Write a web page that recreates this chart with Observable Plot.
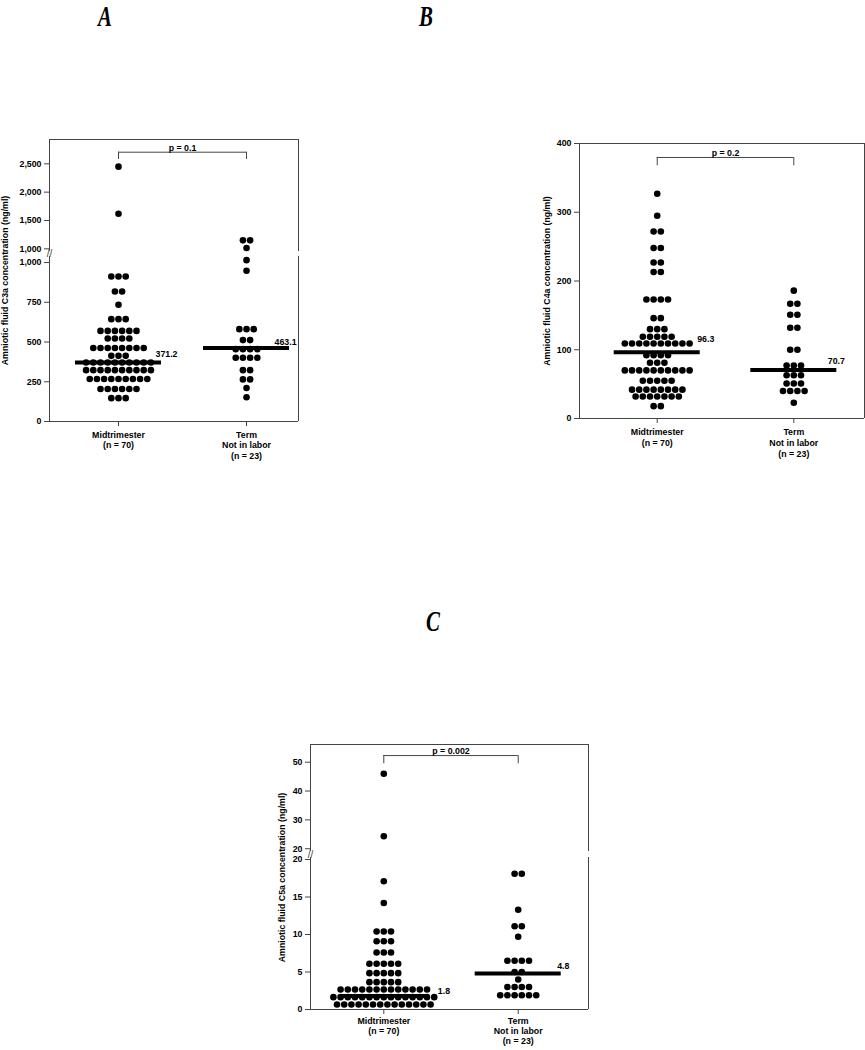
<!DOCTYPE html>
<html>
<head>
<meta charset="utf-8">
<script src="https://cdn.jsdelivr.net/npm/d3@7"></script>
<script src="https://cdn.jsdelivr.net/npm/@observablehq/plot@0.6"></script>
<style>
  body { margin: 0; background: #fff; }
  #page { position: relative; width: 865px; height: 1050px; overflow: hidden; background: #fff; }
  .seg { position: absolute; }
  .title { position: absolute; font-family: 'Liberation Serif', 'Times New Roman', serif; font-weight: bold;
           font-style: italic; font-size: 29px; line-height: 29px; white-space: nowrap; }
</style>
</head>
<body>
<div id="page"></div>
<script>
// ---------------- DATA ----------------
const categories = ["Midtrimester\n(n = 70)", "Term\nNot in labor\n(n = 23)"];
const panelLetters = ["A", "B", "C"];
const yAxisLabels = [
  "Amniotic fluid C3a concentration (ng/ml)",
  "Amniotic fluid C4a concentration (ng/ml)",
  "Amniotic fluid C5a concentration (ng/ml)"
];
const pValues = ["p = 0.1", "p = 0.2", "p = 0.002"];

// Panel A: C3a (rows of dots: value and number of dots in the row)
const c3aMidValues  = [2450, 1620, 912, 818, 734, 644, 570, 522, 462, 413, 371, 323, 267, 204, 147];
const c3aMidCounts  = [1, 1, 3, 2, 1, 3, 6, 4, 8, 3, 10, 10, 9, 6, 3];
const c3aTermValues = [1150, 1015, 948, 581, 512, 455, 401, 323, 265, 211, 153];
const c3aTermCounts = [2, 1, 1, 3, 2, 4, 4, 2, 2, 1, 1];
const c3aMedians = [371.2, 463.1];
const c3aTicksUpper = [1000, 1500, 2000, 2500];
const c3aTicksLower = [0, 250, 500, 750, 1000];

// Panel B: C4a
const c4aMidValues  = [327, 295, 272, 248, 227, 213, 173, 146, 130, 119, 109, 92, 81, 70, 55, 42, 32, 18];
const c4aMidCounts  = [1, 1, 2, 2, 2, 2, 4, 2, 3, 5, 10, 4, 3, 10, 5, 8, 7, 2];
const c4aTermValues = [186, 167, 151, 132, 100, 77, 63, 51, 40, 23];
const c4aTermCounts = [1, 2, 2, 2, 2, 3, 3, 3, 4, 1];
const c4aMedians = [96.3, 70.7];
const c4aTicks = [0, 100, 200, 300, 400];

// Panel C: C5a
const c5aMidValues  = [46, 24.3, 17.1, 14.2, 10.4, 9.1, 7.6, 6.1, 4.85, 3.65, 2.67, 1.65, 0.67];
const c5aMidCounts  = [1, 1, 1, 1, 3, 3, 3, 5, 5, 5, 13, 15, 14];
const c5aTermValues = [18.1, 13.3, 11.1, 9.7, 6.5, 5.0, 4.0, 3.0, 1.9];
const c5aTermCounts = [2, 1, 2, 1, 4, 2, 1, 4, 6];
const c5aMedians = [1.8, 4.8];
const c5aTicksUpper = [20, 30, 40, 50];
const c5aTicksLower = [0, 5, 10, 15, 20];

// ---------------- STYLE ----------------
const FONT = "'Liberation Sans', Arial, Helvetica, sans-serif";
const FS = 8.8;
const FRAME = "#444";
const SPACING_PX = 7.2;   // horizontal distance between dots in a row
const R = 3.3;            // dot radius
const HALF_PX = 43;       // half length of the median bar

const page = document.getElementById("page");

function segment(cfg) {
  const {left, top, width, height, margin, xDomain, yDomain, yTicks, groups, sides,
         xAxis, medians, bracket, yLabel, breakMark} = cfg;
  const [mt, mr, mb, ml] = margin;
  const unitsPerPx = (xDomain[1] - xDomain[0]) / (width - ml - mr);
  const spacing = SPACING_PX * unitsPerPx;
  const half = HALF_PX * unitsPerPx;

  const dots = [];
  groups.forEach((g) => {
    g.values.forEach((v, i) => {
      if (v < yDomain[0] || v > yDomain[1]) return;
      const n = g.counts[i];
      for (let j = 0; j < n; j++) dots.push({x: g.cat + (j - (n - 1) / 2) * spacing, y: v});
    });
  });

  const marks = [];
  if (sides.includes("L")) marks.push(Plot.ruleX([xDomain[0]], {stroke: FRAME, strokeWidth: 1}));
  if (sides.includes("R")) marks.push(Plot.ruleX([xDomain[1]], {stroke: FRAME, strokeWidth: 1}));
  if (sides.includes("T")) marks.push(Plot.ruleY([yDomain[1]], {stroke: FRAME, strokeWidth: 1}));
  if (sides.includes("B")) marks.push(Plot.ruleY([yDomain[0]], {stroke: FRAME, strokeWidth: 1}));

  marks.push(Plot.axisY({ticks: yTicks, tickFormat: d3.format(","), tickSize: 5, tickPadding: 3,
    stroke: FRAME, fill: "black", fontSize: FS, fontWeight: "bold", label: null}));
  if (xAxis) {
    marks.push(Plot.axisX({ticks: [1, 2], tickFormat: (d) => categories[d - 1], tickSize: 5,
      tickPadding: xAxis.padding, lineHeight: xAxis.lineHeight, stroke: FRAME, fill: "black",
      fontSize: FS, fontWeight: "bold", label: null}));
  }

  if (bracket) {
    marks.push(Plot.ruleY([bracket], {y: "level", x1: (d) => d.from, x2: (d) => d.to, stroke: FRAME, strokeWidth: 1}));
    marks.push(Plot.ruleX([bracket.from, bracket.to], {x: (d) => d, y1: bracket.tickEnd, y2: bracket.level, stroke: FRAME, strokeWidth: 1}));
    marks.push(Plot.text([bracket], {x: (d) => (d.from + d.to) / 2, y: "level", text: "label", lineAnchor: "bottom",
      textAnchor: "middle", dy: -1.5, fontSize: FS, fontWeight: "bold", fill: "black"}));
  }

  marks.push(Plot.dot(dots, {x: "x", y: "y", r: R, fill: "black", stroke: "none"}));

  if (medians) {
    medians.forEach((m) => {
      marks.push(Plot.ruleY([m], {y: "value", x1: (d) => d.cat - half, x2: (d) => d.cat + half, stroke: "black", strokeWidth: 4}));
      marks.push(Plot.text([m], {x: (d) => d.cat + half, y: "value", text: (d) => String(d.value), textAnchor: "start",
        lineAnchor: "middle", dx: m.dx, dy: m.dy, fontSize: FS, fontWeight: "bold", fill: "black"}));
    });
  }

  if (yLabel) {
    marks.push(Plot.text([yLabel.text], {frameAnchor: "left", text: (d) => d, rotate: -90, dx: yLabel.dx, dy: yLabel.dy,
      textAnchor: "middle", lineAnchor: "middle", fontSize: FS, fontWeight: "bold", fill: "black"}));
  }
  if (breakMark) {
    marks.push(Plot.text(["//"], {frameAnchor: "top-left", text: (d) => d, dy: breakMark.dy, textAnchor: "middle",
      lineAnchor: "middle", fontSize: 10, fontWeight: "normal", fill: FRAME}));
  }

  const svg = Plot.plot({
    width, height,
    marginTop: mt, marginRight: mr, marginBottom: mb, marginLeft: ml,
    x: {type: "linear", domain: xDomain, axis: null},
    y: {type: "linear", domain: yDomain, axis: null},
    style: {background: "transparent", overflow: "visible", fontFamily: FONT, fontSize: FS + "px",
            fontWeight: "bold", color: "black"},
    marks
  });
  const div = document.createElement("div");
  div.className = "seg";
  div.style.left = left + "px";
  div.style.top = top + "px";
  div.appendChild(svg);
  page.appendChild(div);
}

function title(letter, cx, top) {
  const d = document.createElement("div");
  d.className = "title";
  d.textContent = letter;
  d.style.left = cx + "px";
  d.style.top = top + "px";
  d.style.transform = "translateX(-50%) scaleX(0.72)";
  page.appendChild(d);
}

// ---------------- PANEL A ----------------
const groupsA = [
  {cat: 1, values: c3aMidValues, counts: c3aMidCounts},
  {cat: 2, values: c3aTermValues, counts: c3aTermCounts}
];
const xDomA = [0.461, 2.406];
segment({
  left: 0, top: 130, width: 305, height: 121, margin: [9, 7, 0, 49],
  xDomain: xDomA, yDomain: [953, 2929], yTicks: c3aTicksUpper, groups: groupsA, sides: "LTR",
  bracket: {from: 1, to: 2, level: 2705, tickEnd: 2576, label: pValues[0]}
});
segment({
  left: 0, top: 248, width: 305, height: 218, margin: [8, 7, 45, 49],
  xDomain: xDomA, yDomain: [0, 1038], yTicks: c3aTicksLower, groups: groupsA, sides: "LRB",
  xAxis: {padding: 3.5, lineHeight: 1.22},
  medians: [{cat: 1, value: c3aMedians[0], dx: -6, dy: -8}, {cat: 2, value: c3aMedians[1], dx: -15, dy: -6}],
  yLabel: {text: yAxisLabels[0], dx: -44, dy: -58.5},
  breakMark: {dy: -3}
});

// ---------------- PANEL B ----------------
segment({
  left: 500, top: 130, width: 365, height: 333, margin: [13, 1, 45, 79],
  xDomain: [0.431, 2.5176], yDomain: [0, 400], yTicks: c4aTicks,
  groups: [
    {cat: 1, values: c4aMidValues, counts: c4aMidCounts},
    {cat: 2, values: c4aTermValues, counts: c4aTermCounts}
  ],
  sides: "LTRB", xAxis: {padding: 4, lineHeight: 1.22},
  bracket: {from: 1, to: 2, level: 379.7, tickEnd: 367.6, label: pValues[1]},
  medians: [{cat: 1, value: c4aMedians[0], dx: -3, dy: -13}, {cat: 2, value: c4aMedians[1], dx: -9, dy: -9}],
  yLabel: {text: yAxisLabels[1], dx: -32.3, dy: 0}
});

// ---------------- PANEL C ----------------
const groupsC = [
  {cat: 1, values: c5aMidValues, counts: c5aMidCounts},
  {cat: 2, values: c5aTermValues, counts: c5aTermCounts}
];
const xDomC = [0.4546, 2.523];
segment({
  left: 250, top: 735, width: 340, height: 116, margin: [9, 2, 0, 60],
  xDomain: xDomC, yDomain: [19.03, 56.14], yTicks: c5aTicksUpper, groups: groupsC, sides: "LTR",
  bracket: {from: 1, to: 2, level: 52.3, tickEnd: 49.45, label: pValues[2]}
});
segment({
  left: 250, top: 849, width: 340, height: 199, margin: [8, 2, 39, 60],
  xDomain: xDomC, yDomain: [0, 20.27], yTicks: c5aTicksLower, groups: groupsC, sides: "LRB",
  xAxis: {padding: 2.5, lineHeight: 1.15},
  medians: [{cat: 1, value: c5aMedians[0], dx: 11, dy: -5}, {cat: 2, value: c5aMedians[1], dx: -4, dy: -7}],
  yLabel: {text: yAxisLabels[2], dx: -28.3, dy: -56},
  breakMark: {dy: -3}
});

// ---------------- TITLES ----------------
title(panelLetters[0], 104.5, 2);
title(panelLetters[1], 425.5, 2);
title(panelLetters[2], 433, 607);
</script>
</body>
</html>
